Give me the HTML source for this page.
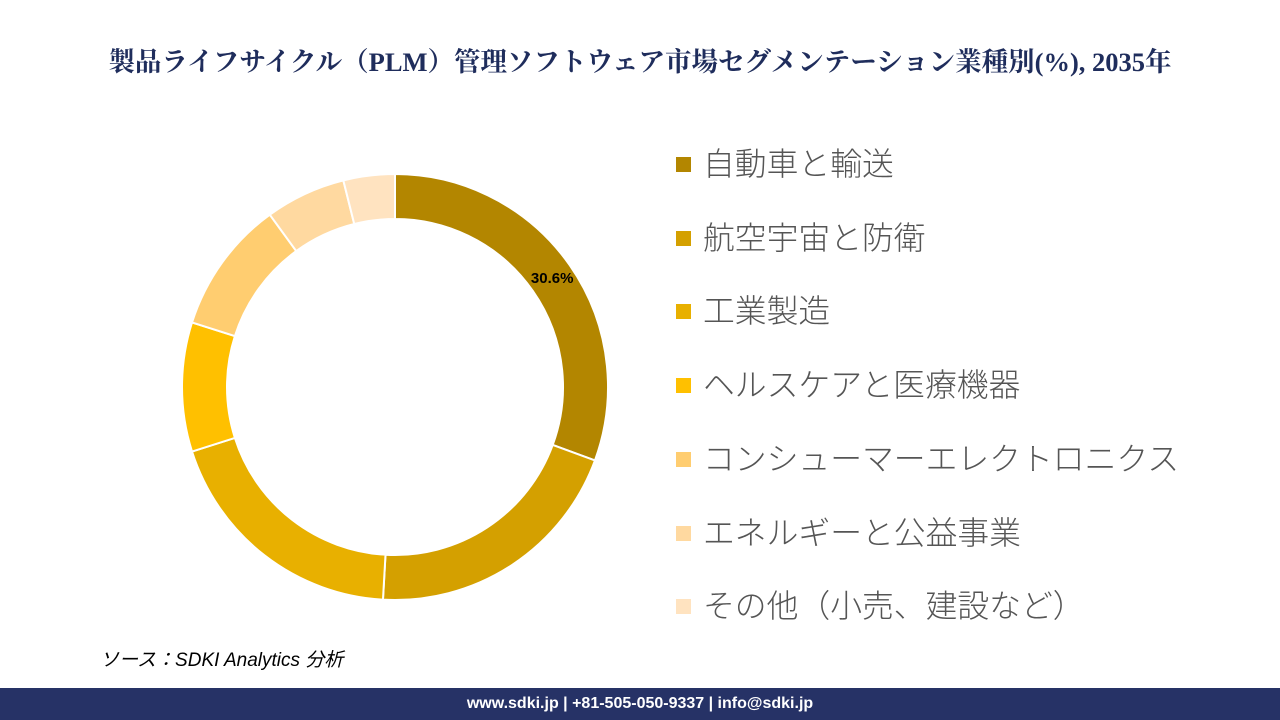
<!DOCTYPE html>
<html><head><meta charset="utf-8"><style>
body{margin:0;width:1280px;height:720px;background:#fff;position:relative;overflow:hidden;font-family:"Liberation Sans","Noto Sans CJK JP",sans-serif}
#title{position:absolute;top:40px;left:0;width:1280px;text-align:center;font-family:"Liberation Serif","Noto Serif CJK SC",serif;font-weight:bold;font-size:26.5px;color:#1f2d5c;white-space:nowrap}
.leg{position:absolute;left:676px;font-size:31.8px;color:#555;height:40px;line-height:40px;white-space:nowrap;font-weight:300}
.leg span{display:inline-block;width:15px;height:15px;margin-left:0;margin-right:12px;vertical-align:middle;position:relative;top:-2px}
#src{position:absolute;left:100px;top:645px;font-style:italic;font-size:19px;color:#000}
#foot{position:absolute;left:0;top:688px;width:1280px;height:32px;background:#263266;color:#fff;font-weight:bold;font-size:16px;text-align:center;line-height:32px}
</style></head><body>
<div id="title">製品ライフサイクル（PLM）管理ソフトウェア市場セグメンテーション業種別(%), 2035年</div>
<svg id="chart" width="1280" height="720" style="position:absolute;left:0;top:0"></svg>
<div id="legend"></div>
<div id="src">ソース：SDKI Analytics 分析</div>
<div id="foot">www.sdki.jp | +81-505-050-9337 | info@sdki.jp</div>
<script>
const categories=["自動車と輸送","航空宇宙と防衛","工業製造","ヘルスケアと医療機器","コンシューマーエレクトロニクス","エネルギーと公益事業","その他（小売、建設など）"];
const values=[30.6,20.3,19.2,9.8,10.1,6.1,3.9];
const colors=["#b38600","#d4a000","#e8b000","#ffc000","#ffcd70","#ffd9a0","#ffe3c0"];
const cx=395,cy=387,R=213,r=168;
const svg=document.getElementById('chart');
const total=values.reduce((a,b)=>a+b,0);
function pt(a,rad){return [cx+rad*Math.sin(a),cy-rad*Math.cos(a)];}
let acc=0;
values.forEach((v,i)=>{
 const a0=acc/total*2*Math.PI;acc+=v;const a1=acc/total*2*Math.PI;
 const L=(a1-a0)>Math.PI?1:0;
 const [x0,y0]=pt(a0,R),[x1,y1]=pt(a1,R),[x2,y2]=pt(a1,r),[x3,y3]=pt(a0,r);
 const p=document.createElementNS('http://www.w3.org/2000/svg','path');
 p.setAttribute('d',`M${x0},${y0}A${R},${R} 0 ${L} 1 ${x1},${y1}L${x2},${y2}A${r},${r} 0 ${L} 0 ${x3},${y3}Z`);
 p.setAttribute('fill',colors[i]);p.setAttribute('stroke','#fff');p.setAttribute('stroke-width','2');
 
 
 svg.appendChild(p);
 if(i===0){
  const am=(a0+a1)/2;const [tx,ty]=pt(am,(R+r)/2);
  const t=document.createElementNS('http://www.w3.org/2000/svg','text');
  t.setAttribute('x',tx+1);t.setAttribute('y',ty+5);t.setAttribute('font-size','15');t.setAttribute('font-weight','bold');
  t.setAttribute('text-anchor','middle');t.setAttribute('font-family','Liberation Sans,sans-serif');
  t.textContent=v.toFixed(1)+'%';
  
  
  svg.appendChild(t);
 }
});
const lg=document.getElementById('legend');
categories.forEach((c,i)=>{
 const d=document.createElement('div');d.className='leg';d.style.top=(144+i*73.7)+'px';
 d.innerHTML=`<span style="background:${colors[i]}"></span>${c}`;
 
 
 lg.appendChild(d);
});
</script>
</body></html>
